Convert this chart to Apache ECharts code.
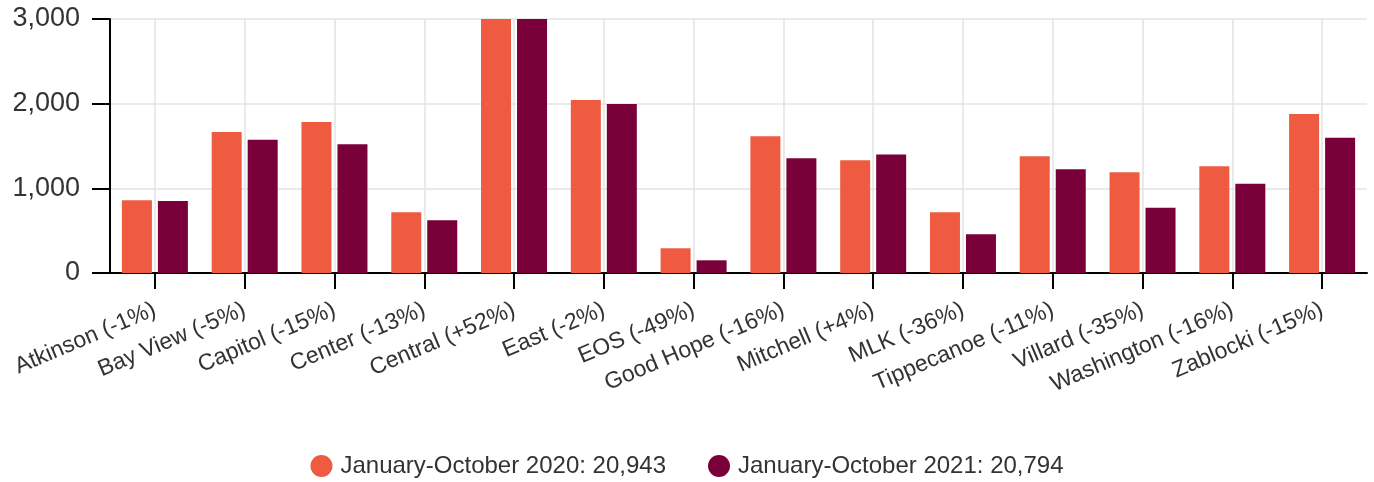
<!DOCTYPE html>
<html>
<head>
<meta charset="utf-8">
<script src="https://cdn.jsdelivr.net/npm/echarts@6/dist/echarts.min.js"></script>
<style>
html,body{margin:0;padding:0;background:#fff;}
#chart{width:1374px;height:482px;}
</style>
</head>
<body>
<div id="chart"></div>
<script>
var categories = ['Atkinson (-1%)','Bay View (-5%)','Capitol (-15%)','Center (-13%)','Central (+52%)','East (-2%)','EOS (-49%)','Good Hope (-16%)','Mitchell (+4%)','MLK (-36%)','Tippecanoe (-11%)','Villard (-35%)','Washington (-16%)','Zablocki (-15%)'];
var series2020 = [860,1664,1782,718,4200,2042,292,1616,1333,718,1380,1191,1262,1877];
var series2021 = [850,1575,1522,623,6260,1995,150,1356,1400,458,1225,770,1055,1598];
var seriesNames = ['January-October 2020: 20,943','January-October 2021: 20,794'];
var yTicks = {min:0, max:3000, interval:1000};

var chart = echarts.init(document.getElementById('chart'), null, {renderer:'canvas'});
var font = 'Liberation Sans, Arial, sans-serif';
chart.setOption({
  animation:false,
  textStyle:{fontFamily:font},
  grid:{left:110, right:7, top:19, bottom:209, containLabel:false},
  legend:{
    bottom:4, left:'center', padding:0, icon:'circle', itemWidth:22, itemHeight:22, itemGap:42,
    textStyle:{fontSize:24, color:'#333', fontFamily:font, padding:[0,0,0,3]},
    data:seriesNames
  },
  xAxis:{
    type:'category', data:categories, boundaryGap:true,
    axisLine:{lineStyle:{color:'#000', width:2}},
    axisTick:{show:true, alignWithLabel:true, length:16, lineStyle:{color:'#000', width:2}},
    splitLine:{show:true, alignWithLabel:true, lineStyle:{color:'#e3e3e3', width:1.5}},
    axisLabel:{rotate:23, fontSize:23, color:'#333', margin:36, interval:0, fontFamily:font}
  },
  yAxis:{
    type:'value', min:yTicks.min, max:yTicks.max, interval:yTicks.interval,
    axisLine:{show:true, lineStyle:{color:'#000', width:2}},
    axisTick:{show:true, length:18, lineStyle:{color:'#000', width:2}},
    splitLine:{show:true, lineStyle:{color:'#e3e3e3', width:1.5}},
    axisLabel:{fontSize:27, color:'#333', margin:30, fontFamily:font,
      formatter:function(v){return v.toLocaleString('en-US');}}
  },
  series:[
    {name:seriesNames[0], type:'bar', data:series2020, barWidth:30, barGap:'20%', itemStyle:{color:'#EF5B40'}, clip:true},
    {name:seriesNames[1], type:'bar', data:series2021, barWidth:30, barGap:'20%', itemStyle:{color:'#7A0039'}, clip:true}
  ]
});
</script>
</body>
</html>
